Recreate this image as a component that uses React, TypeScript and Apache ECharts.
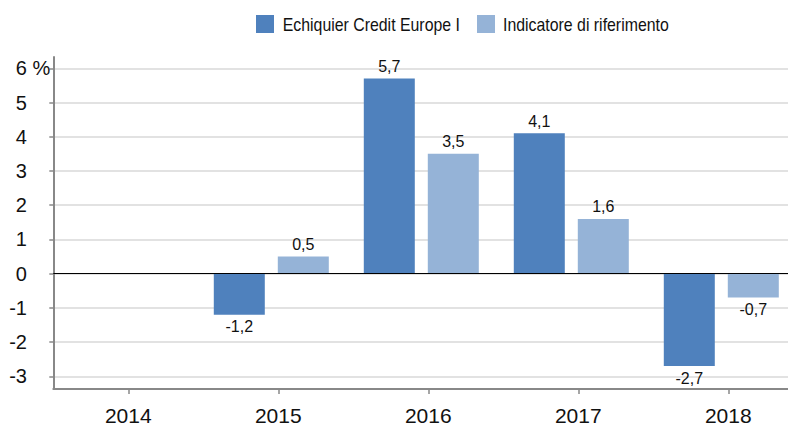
import React, { useEffect, useRef } from "react";
import * as echarts from "echarts";

const categories = ["2014", "2015", "2016", "2017", "2018"];
const fundName = "Echiquier Credit Europe I";
const benchName = "Indicatore di riferimento";
const fundValues: (number | null)[] = [null, -1.2, 5.7, 4.1, -2.7];
const benchValues: (number | null)[] = [null, 0.5, 3.5, 1.6, -0.7];
const yTicks = [-3, -2, -1, 0, 1, 2, 3, 4, 5, 6];

const FONT = "'Liberation Sans', Arial, sans-serif";
const FUND_COLOR = "#4f81bd";
const BENCH_COLOR = "#95b3d7";
const fmt = (v: number) => v.toFixed(1).replace(".", ",");

const toItems = (arr: (number | null)[]) =>
  arr.map((v) =>
    v === null
      ? "-"
      : {
          value: v,
          label: { position: v < 0 ? "bottom" : "top" },
        }
  );

export default function App() {
  const ref = useRef<HTMLDivElement>(null);
  useEffect(() => {
    if (!ref.current) return;
    document.body.style.margin = "0";
    document.body.style.overflow = "hidden";
    const chart = echarts.init(ref.current, null, { renderer: "svg" });
    const barLabel = {
      show: true,
      distance: 4,
      fontFamily: FONT,
      fontSize: 16,
      color: "#111",
      formatter: (p: any) => fmt(p.value),
    };
    const legendText = (x: number, text: string) => ({
      type: "text",
      x,
      y: 24,
      scaleX: 0.835,
      style: {
        x: 0,
        y: 0,
        text,
        fontFamily: FONT,
        fontSize: 19,
        fill: "#111",
        verticalAlign: "middle",
        align: "left",
      },
    });
    chart.setOption({
      animation: false,
      backgroundColor: "#fff",
      graphic: [
        { type: "rect", shape: { x: 256, y: 15, width: 18, height: 18 }, style: { fill: FUND_COLOR } },
        legendText(282.7, fundName),
        { type: "rect", shape: { x: 477, y: 15, width: 18, height: 18 }, style: { fill: BENCH_COLOR } },
        legendText(503, benchName),
      ],
      grid: {
        left: 53.3,
        width: 750,
        top: 57,
        bottom: 37,
        containLabel: false,
        outerBoundsMode: "none",
      },
      xAxis: {
        type: "category",
        data: categories,
        boundaryGap: true,
        axisLine: { show: true, onZero: false, lineStyle: { color: "#888", width: 2 } },
        axisTick: { show: true, alignWithLabel: true, length: 5, lineStyle: { color: "#888", width: 1.5 } },
        axisLabel: { fontFamily: FONT, fontSize: 21, color: "#111", margin: 16 },
        splitLine: { show: false },
      },
      yAxis: {
        type: "value",
        min: -3.37,
        max: 6.33,
        axisLine: { show: true, lineStyle: { color: "#888", width: 2 } },
        axisTick: {
          show: true,
          length: 4,
          customValues: yTicks,
          lineStyle: { color: "#888", width: 1.5 },
        },
        axisLabel: {
          customValues: yTicks,
          margin: 3,
          fontFamily: FONT,
          fontSize: 20,
          color: "#111",
          formatter: (v: number) =>
            v === 6 ? "{a|6 %}" : "{a|" + v + "}{h| %}",
          rich: {
            a: { fontFamily: FONT, fontSize: 20, color: "#111" },
            h: { fontFamily: FONT, fontSize: 20, color: "rgba(0,0,0,0)" },
          },
        },
        splitLine: { show: true, lineStyle: { color: "#d9d9d9", width: 1.5 } },
      },
      series: [
        {
          name: fundName,
          type: "bar",
          data: toItems(fundValues),
          barWidth: 51,
          barGap: "25.5%",
          itemStyle: { color: FUND_COLOR },
          label: barLabel,
          markLine: {
            silent: true,
            symbol: ["none", "none"],
            label: { show: false },
            lineStyle: { color: "#000", width: 1, type: "solid" },
            data: [{ yAxis: 0 }],
          },
        },
        {
          name: benchName,
          type: "bar",
          data: toItems(benchValues),
          barWidth: 51,
          barGap: "25.5%",
          itemStyle: { color: BENCH_COLOR },
          label: barLabel,
        },
        {
          name: "spacer",
          type: "bar",
          data: categories.map(() => "-"),
          barWidth: 0.01,
          barGap: "25.5%",
          itemStyle: { color: "rgba(0,0,0,0)" },
        },
      ],
    });
    return () => chart.dispose();
  }, []);
  return <div ref={ref} style={{ width: 788, height: 426 }} />;
}
